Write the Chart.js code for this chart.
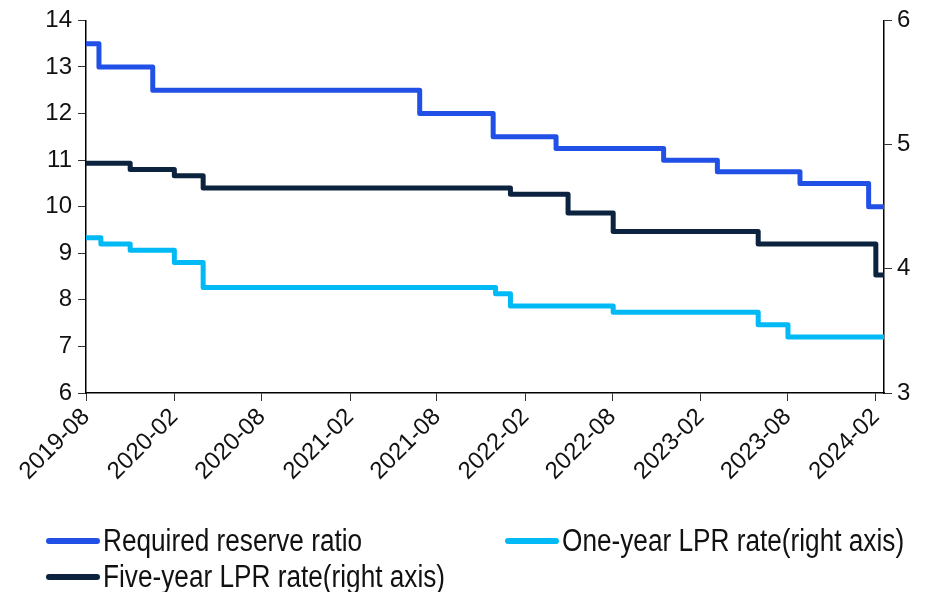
<!DOCTYPE html>
<html>
<head>
<meta charset="utf-8">
<script src="https://cdn.jsdelivr.net/npm/chart.js@4.4.1/dist/chart.umd.min.js"></script>
<style>
    body { margin: 0; background: #fff; }
    #wrap { position: relative; width: 940px; height: 592px; }
    #legend {
        position: absolute; left: 46px; top: 525px;
        display: grid; grid-template-columns: 459px 430px; row-gap: 4px;
        font-family: 'Liberation Sans', Arial, sans-serif;
        font-size: 31px; color: #111;
    }
    .item { display: flex; align-items: center; height: 32px; white-space: nowrap; }
    .swatch { flex: none; width: 54px; height: 6px; border-radius: 3px; margin-right: 3px; }
    /* narrow the legend lettering */
    .label { display: inline-block; transform: scaleX(0.845); transform-origin: left center; }
</style>
</head>
<body>
<div id="wrap">
    <canvas id="rateChart" width="940" height="592"></canvas>
    <div id="legend"></div>
</div>
<script>
// Change dates and levels; last entry holds the final level to the end of the sample
const rrrDates = ['2019-08-20', '2019-09-16', '2020-01-06', '2021-07-15', '2021-12-15', '2022-04-25', '2022-12-05', '2023-03-27', '2023-09-15', '2024-02-05', '2024-03-08'];
const rrrValues = [13.5, 13.0, 12.5, 12.0, 11.5, 11.25, 11.0, 10.75, 10.5, 10.0, 10.0];

const lpr1yDates = ['2019-08-20', '2019-09-20', '2019-11-20', '2020-02-20', '2020-04-20', '2021-12-20', '2022-01-20', '2022-08-22', '2023-06-20', '2023-08-21', '2024-03-08'];
const lpr1yValues = [4.25, 4.20, 4.15, 4.05, 3.85, 3.80, 3.70, 3.65, 3.55, 3.45, 3.45];

const lpr5yDates = ['2019-08-20', '2019-11-20', '2020-02-20', '2020-04-20', '2022-01-20', '2022-05-20', '2022-08-22', '2023-06-20', '2024-02-20', '2024-03-08'];
const lpr5yValues = [4.85, 4.80, 4.75, 4.65, 4.60, 4.45, 4.30, 4.20, 3.95, 3.95];

const xTickLabels = ['2019-08', '2020-02', '2020-08', '2021-02', '2021-08', '2022-02', '2022-08', '2023-02', '2023-08', '2024-02'];
const leftTicks = [6, 7, 8, 9, 10, 11, 12, 13, 14];
const rightTicks = [3, 4, 5, 6];

const ORIGIN = Date.UTC(2019, 7, 20);
const DAY = 86400000;

function dayOffset(str) {
    const p = str.split('-').map(Number);
    return Math.round((Date.UTC(p[0], p[1] - 1, p[2]) - ORIGIN) / DAY);
}

function monthLabel(days) {
    const d = new Date(ORIGIN + days * DAY);
    return d.getUTCFullYear() + '-' + String(d.getUTCMonth() + 1).padStart(2, '0');
}

function toPoints(dates, values) {
    return dates.map((d, i) => ({ x: dayOffset(d), y: values[i] }));
}

document.addEventListener('DOMContentLoaded', function() {
    initChart();
});

function initChart() {
    const font = { family: "'Liberation Sans', Arial, sans-serif", size: 24 };
    const lineStyle = { borderWidth: 5, stepped: true, pointRadius: 0, borderJoinStyle: 'round', fill: false };

    const ctx = document.getElementById('rateChart').getContext('2d');
    const chart = new Chart(ctx, {
        type: 'line',
        data: {
            datasets: [{
                label: 'Required reserve ratio',
                data: toPoints(rrrDates, rrrValues),
                borderColor: '#2150e6',
                yAxisID: 'y',
                ...lineStyle
            }, {
                label: 'One-year LPR rate(right axis)',
                data: toPoints(lpr1yDates, lpr1yValues),
                borderColor: '#00b9f5',
                yAxisID: 'y1',
                ...lineStyle
            }, {
                label: 'Five-year LPR rate(right axis)',
                data: toPoints(lpr5yDates, lpr5yValues),
                borderColor: '#0c2340',
                yAxisID: 'y1',
                ...lineStyle
            }]
        },
        options: {
            responsive: false,
            devicePixelRatio: 1,
            animation: false,
            layout: { padding: { top: 18, bottom: 99, left: 0, right: 0 } },
            plugins: { legend: { display: false }, tooltip: { enabled: false } },
            scales: {
                x: {
                    type: 'linear',
                    min: 0,
                    max: dayOffset(lpr5yDates[lpr5yDates.length - 1]),
                    afterBuildTicks: function(scale) {
                        scale.ticks = xTickLabels.map(l => ({ value: dayOffset(l + '-20') }));
                    },
                    afterFit: function(scale) { scale.height = 100; },
                    ticks: {
                        autoSkip: false, minRotation: 45, maxRotation: 45,
                        color: '#111', font: font, padding: 2,
                        callback: v => monthLabel(v)
                    },
                    grid: { drawOnChartArea: false, drawTicks: true, tickLength: 8, color: '#333' },
                    border: { display: true, color: '#000', width: 1.5 }
                },
                y: {
                    position: 'left',
                    min: 6, max: 14,
                    afterBuildTicks: function(scale) { scale.ticks = leftTicks.map(v => ({ value: v })); },
                    afterFit: function(scale) { scale.width = 86; },
                    ticks: { color: '#111', font: font, padding: 6 },
                    grid: { drawOnChartArea: false, drawTicks: true, tickLength: 8, color: '#333' },
                    border: { display: true, color: '#000', width: 1.5 }
                },
                y1: {
                    position: 'right',
                    min: 3, max: 6,
                    afterBuildTicks: function(scale) { scale.ticks = rightTicks.map(v => ({ value: v })); },
                    afterFit: function(scale) { scale.width = 56; },
                    ticks: { color: '#111', font: font, padding: 5 },
                    grid: { drawOnChartArea: false, drawTicks: true, tickLength: 8, color: '#333' },
                    border: { display: true, color: '#000', width: 1.5 }
                }
            }
        }
    });

    buildLegend(chart);
}

function buildLegend(chart) {
    const legend = document.getElementById('legend');
    chart.data.datasets.forEach(function(ds) {
        const item = document.createElement('div');
        item.className = 'item';
        const swatch = document.createElement('span');
        swatch.className = 'swatch';
        swatch.style.background = ds.borderColor;
        const text = document.createElement('span');
        text.className = 'label';
        text.textContent = ds.label;
        item.appendChild(swatch);
        item.appendChild(text);
        legend.appendChild(item);
    });
}
</script>
</body>
</html>
